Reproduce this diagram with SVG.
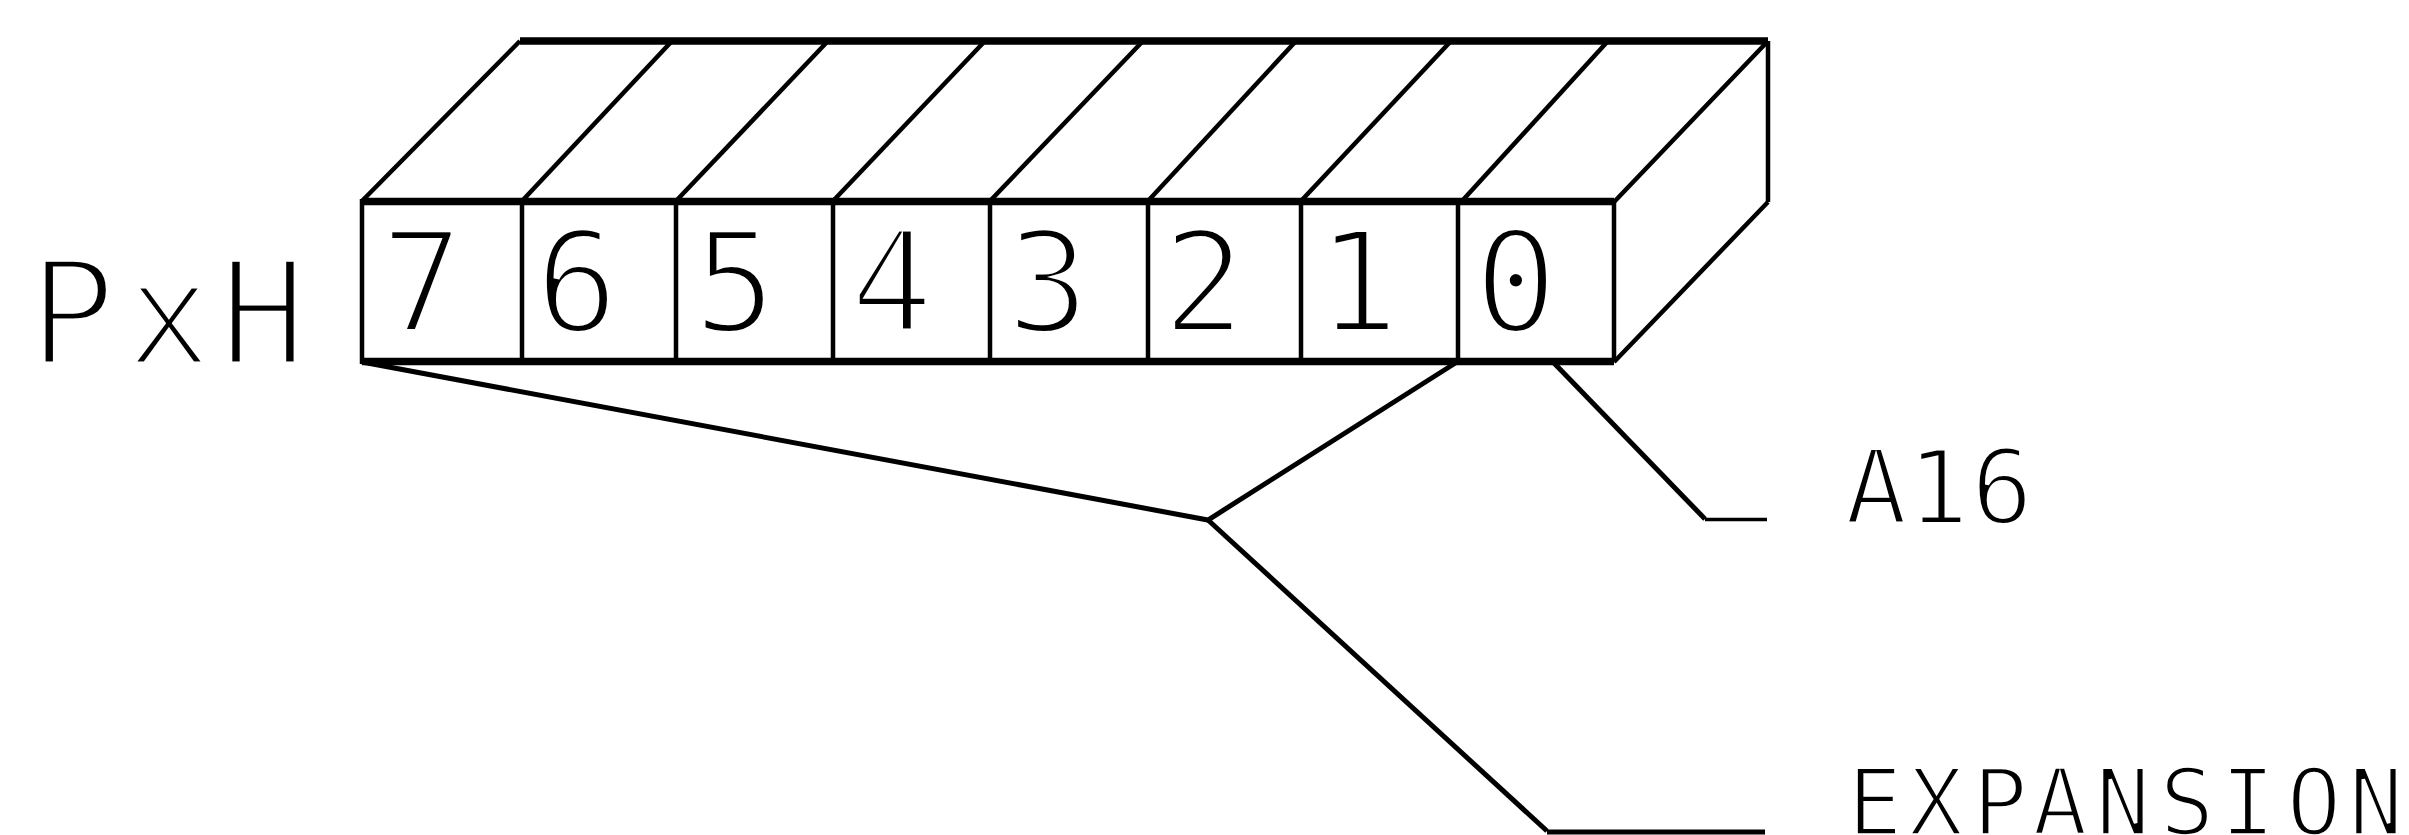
<svg xmlns="http://www.w3.org/2000/svg" width="2409" height="835" viewBox="0 0 2409 835">
<style>
.h{stroke:#000;stroke-width:7.500;fill:none}
.v{stroke:#000;stroke-width:4.500;fill:none}
.d{stroke:#000;stroke-width:4.500;fill:none}
.c{stroke:#000;stroke-width:5;fill:none}
text{font-family:"DejaVu Sans Mono",monospace;fill:#000;stroke:#fff;text-anchor:middle}
.dg{font-size:140px;stroke-width:6px}
.pre{font-size:146px;stroke-width:7px}
.lb{font-size:104px;stroke-width:4px}
.ex{font-size:92px;stroke-width:3.500px}
</style>
<rect width="2409" height="835" fill="#fff"/>
<g id="register-body">
<path class="h" d="M520 41H1768M362 201.500H1614M362 361.500H1614"/>
<path class="v" d="M1768 41V202M362 199V364"/>
<path class="d" d="M362 201L520 41M1614 202L1768 41M1614 362L1768 202"/>
</g>
<g id="bit7"><text class="dg" x="422" y="332">7</text></g>
<g id="bit6"><path class="v" d="M522 201V362"/><path class="d" d="M522 201L672 41"/><text class="dg" x="577" y="332">6</text></g>
<g id="bit5"><path class="v" d="M676 201V362"/><path class="d" d="M676 201L828 41"/><text class="dg" x="735" y="332">5</text></g>
<g id="bit4"><path class="v" d="M833 201V362"/><path class="d" d="M833 201L985 41"/><text class="dg" x="892" y="332">4</text></g>
<g id="bit3"><path class="v" d="M990 201V362"/><path class="d" d="M990 201L1143 41"/><text class="dg" x="1048" y="332">3</text></g>
<g id="bit2"><path class="v" d="M1148 201V362"/><path class="d" d="M1148 201L1296 41"/><text class="dg" x="1204" y="332">2</text></g>
<g id="bit1"><path class="v" d="M1301 201V362"/><path class="d" d="M1301 201L1451 41"/><text class="dg" x="1358" y="332">1</text></g>
<g id="bit0"><path class="v" d="M1458 201V362"/><path class="d" d="M1462 201L1608 41"/><text class="dg" x="1516" y="332">0</text></g>
<g id="right-edge"><path class="v" d="M1614 201V362"/></g>
<g id="connectors">
<path class="c" d="M362 362L1208 520L1457 362"/>
<path class="c" d="M1208 520L1547 831"/>
<path class="h" style="stroke-width:5" d="M1547 832H1765"/>
<path class="c" d="M1553 362L1705 519"/>
<path class="c" style="stroke-width:3.500" d="M1705 519.500H1767"/>
</g>
<g id="label-pxh"><text class="pre" x="72 169 263" y="365">PxH</text></g>
<g id="label-a16"><text class="lb" x="1876 1938 2002" y="524">A16</text></g>
<g id="label-expansion"><text class="ex" x="1875 1936 2000 2060 2123 2187 2248 2314 2376" y="835">EXPANSION</text></g>
</svg>
